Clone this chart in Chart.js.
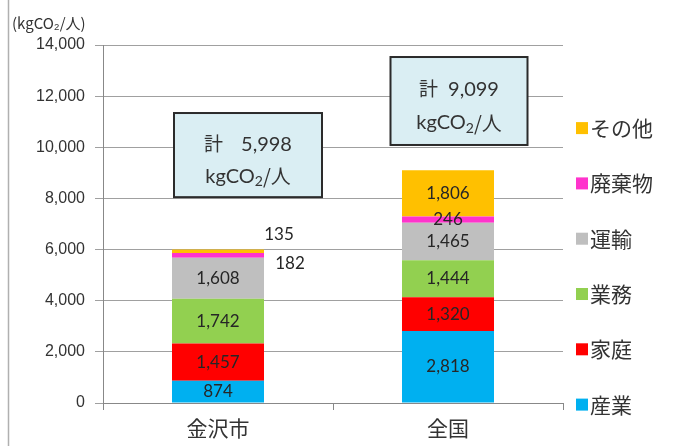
<!DOCTYPE html>
<html>
<head>
<meta charset="utf-8">
<script src="https://cdn.jsdelivr.net/npm/chart.js@4/dist/chart.umd.min.js"></script>
<style>
  html, body { margin: 0; padding: 0; background: #fff; }
  #wrap { width: 675px; height: 446px; position: relative; }
</style>
</head>
<body>
<div id="wrap"><canvas id="c" width="675" height="446"></canvas></div>
<script>
// ---- data ----
const categories = ['金沢市', '全国'];
const sectorNames = ['産業', '家庭', '業務', '運輸', '廃棄物', 'その他'];
const sangyo = [874, 2818];
const katei = [1457, 1320];
const gyomu = [1742, 1444];
const unyu = [1608, 1465];
const haikibutsu = [182, 246];
const sonota = [135, 1806];
const yTicks = [0, 2000, 4000, 6000, 8000, 10000, 12000, 14000];
const unitLabel = '(kgCO₂/人)';
const totalPrefix = '計';
const totalUnit = ['kgCO', '2', '/人'];

const seriesValues = [sangyo, katei, gyomu, unyu, haikibutsu, sonota];
const colors = ['#00B0F0', '#FF0000', '#92D050', '#BFBFBF', '#FF33CC', '#FFC000'];

const fmt = v => v.toLocaleString('en-US');
const totals = categories.map((_, i) => seriesValues.reduce((s, arr) => s + arr[i], 0));

const datasets = sectorNames.map((name, k) => ({
  label: name,
  data: seriesValues[k],
  backgroundColor: colors[k],
  borderWidth: 0,
  barPercentage: 0.8,
  categoryPercentage: 0.5
}));

// label placement tweaks (in px) for thin segments of 金沢市
const labelOffsets = {
  '4-0': { dx: 72, dy: 8 },   // 182
  '5-0': { dx: 61, dy: -17 }  // 135
};

const dataLabelPlugin = {
  id: 'dataLabels',
  afterDatasetsDraw(chart) {
    const ctx = chart.ctx;
    ctx.save();
    ctx.font = '17px Lato, "Open Sans", sans-serif';
    ctx.fillStyle = '#262626';
    ctx.textBaseline = 'middle';
    chart.data.datasets.forEach((ds, di) => {
      const meta = chart.getDatasetMeta(di);
      meta.data.forEach((bar, i) => {
        const key = di + '-' + i;
        const off = labelOffsets[key] || { dx: 0, dy: 0 };
        const x = bar.x + off.dx;
        const y = (bar.y + bar.base) / 2 + off.dy;
        ctx.textAlign = 'center';
        ctx.fillText(fmt(ds.data[i]), x, y);
      });
    });
    ctx.restore();
  }
};

// total boxes: positioned relative to the category via scales
const boxSpec = [
  { dx: 30, w: 148, top: 11340, bottom: 8050 },
  { dx: 11, w: 137, top: 13530, bottom: 10090 }
];

const decorPlugin = {
  id: 'decor',
  afterDraw(chart) {
    const ctx = chart.ctx;
    const xs = chart.scales.x, ys = chart.scales.y;
    ctx.save();
    // frame line on the left
    ctx.strokeStyle = '#b0b0b0';
    ctx.lineWidth = 1.5;
    ctx.beginPath(); ctx.moveTo(8.5, 0); ctx.lineTo(8.5, 446); ctx.stroke();
    // unit label
    ctx.fillStyle = '#333';
    ctx.font = '15px "Noto Sans CJK JP", sans-serif';
    ctx.textAlign = 'left';
    ctx.textBaseline = 'middle';
    ctx.fillText(unitLabel, 12, 23);

    // total boxes
    categories.forEach((c, i) => {
      const b = boxSpec[i];
      const cx = xs.getPixelForValue(i) + b.dx;
      const t = ys.getPixelForValue(b.top), bt = ys.getPixelForValue(b.bottom);
      const l = cx - b.w / 2;
      ctx.fillStyle = '#DAEEF3';
      ctx.fillRect(l, t, b.w, bt - t);
      ctx.strokeStyle = '#2b2b2b';
      ctx.lineWidth = 2;
      ctx.strokeRect(l, t, b.w, bt - t);
      const h = bt - t;
      ctx.fillStyle = '#333';
      ctx.textBaseline = 'middle';
      const y1 = t + h * 0.36, y2 = t + h * 0.75;
      const p = totalPrefix;
      const numStr = fmt(totals[i]);
      const gap = i === 0 ? 18 : 10;
      ctx.font = '19px "Noto Sans CJK JP", sans-serif';
      const pw = ctx.measureText(p).width;
      ctx.font = '20px Lato, sans-serif';
      const nw = ctx.measureText(numStr).width;
      let sx = cx - (pw + gap + nw) / 2;
      ctx.textAlign = 'left';
      ctx.font = '19px "Noto Sans CJK JP", sans-serif';
      ctx.fillText(p, sx, y1);
      ctx.font = '20px Lato, sans-serif';
      ctx.fillText(numStr, sx + pw + gap, y1 + 1);
      // line 2: kgCO2/人
      ctx.font = '20px Lato, sans-serif';
      const w1 = ctx.measureText(totalUnit[0]).width;
      ctx.font = '14px Lato, sans-serif';
      const w2 = ctx.measureText(totalUnit[1]).width;
      ctx.font = '20px "Noto Sans CJK JP", sans-serif';
      const w3 = ctx.measureText(totalUnit[2]).width;
      sx = cx - (w1 + w2 + w3) / 2;
      ctx.font = '20px Lato, sans-serif';
      ctx.fillText(totalUnit[0], sx, y2);
      ctx.font = '14px Lato, sans-serif';
      ctx.fillText(totalUnit[1], sx + w1, y2 + 5);
      ctx.font = '20px "Noto Sans CJK JP", sans-serif';
      ctx.fillText(totalUnit[2], sx + w1 + w2, y2);
    });

    // legend (reverse order)
    const n = chart.data.datasets.length;
    const lx = chart.chartArea.right + 13;
    const ly0 = ys.getPixelForValue(10750);
    const step = 55.3;
    for (let k = 0; k < n; k++) {
      const di = n - 1 - k;
      const ds = chart.data.datasets[di];
      const y = ly0 + k * step;
      ctx.fillStyle = ds.backgroundColor;
      ctx.fillRect(lx, y - 6, 12, 12);
      ctx.fillStyle = '#333';
      ctx.font = '21px "Noto Sans CJK JP", sans-serif';
      ctx.textAlign = 'left';
      ctx.textBaseline = 'middle';
      ctx.fillText(ds.label, lx + 14, y);
    }
    ctx.restore();
  }
};

new Chart(document.getElementById('c'), {
  type: 'bar',
  data: { labels: categories, datasets },
  options: {
    responsive: false,
    animation: false,
    devicePixelRatio: 1,
    layout: { padding: { left: 0, right: 112, top: 45, bottom: 0 } },
    plugins: { legend: { display: false }, tooltip: { enabled: false }, title: { display: false } },
    scales: {
      x: {
        stacked: true,
        grid: { display: true, drawOnChartArea: false, offset: true, color: '#888', tickLength: 7, lineWidth: 1 },
        border: { color: '#888', width: 1 },
        ticks: { color: '#333', font: { family: '"Noto Sans CJK JP", sans-serif', size: 21 }, padding: 5 },
        afterFit(s) { s.height = 43; }
      },
      y: {
        stacked: true,
        min: 0, max: 14000,
        afterBuildTicks(s) { s.ticks = yTicks.map(v => ({ value: v })); },
        grid: { color: '#a0a0a0', tickLength: 8, lineWidth: 1 },
        border: { color: '#888', width: 1 },
        ticks: {
          color: '#333',
          font: { family: '"Liberation Sans", Arial, sans-serif', size: 16 },
          padding: 10,
          callback: v => fmt(v)
        },
        afterFit(s) { s.width = 103; }
      }
    }
  },
  plugins: [dataLabelPlugin, decorPlugin]
});
</script>
</body>
</html>
